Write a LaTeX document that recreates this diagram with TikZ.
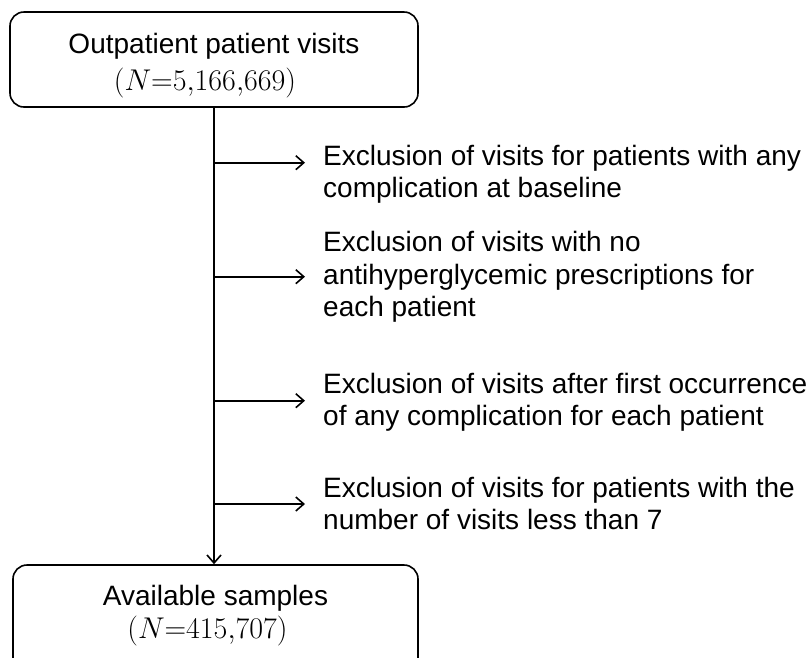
\RequirePackage{fix-cm}
\documentclass[tikz,border=0pt]{standalone}
\usepackage{fontspec}
\setmainfont{Liberation Sans}
\usetikzlibrary{arrows.meta}
\begin{document}
\begin{tikzpicture}[x=1pt,y=-1pt,
  box/.style={draw, line width=1.6pt, rounded corners=14pt, inner sep=0pt},
  arr/.style={-{Straight Barb[length=8pt,width=14pt,line width=1.6pt]}, line width=1.6pt},
  lbl/.style={anchor=base west, inner sep=0pt, align=left, font=\fontsize{28}{32.5}\selectfont},
  ctr/.style={anchor=base, inner sep=0pt, font=\fontsize{28}{32.5}\selectfont},
  num/.style={anchor=base, inner sep=0pt, font=\fontsize{30}{34}\selectfont}]
\useasboundingbox (0,0) rectangle (810,657);
% boxes
\node[box, minimum width=408pt, minimum height=95pt] (top) at (214,59.5) {};
\node[box, minimum width=405pt, minimum height=110pt] (bot) at (215.5,620) {};
% box texts
\node[ctr] (top1) at (214,53) {Outpatient patient visits};
\node[num] (top2) at (205,90) {$(N{=}5{,}166{,}669)$};
\node[ctr] (bot1) at (215.5,605.5) {Available samples};
\node[num] (bot2) at (207.5,638) {$(N{=}415{,}707)$};
% exclusion texts (base anchor = last line's baseline)
\node[lbl] (t1) at (323,197.5) {Exclusion of visits for patients with any\\complication at baseline};
\node[lbl] (t2) at (323,316.7) {Exclusion of visits with no\\antihyperglycemic prescriptions for\\each patient};
\node[lbl] (t3) at (323,425.5) {Exclusion of visits after first occurrence\\of any complication for each patient};
\node[lbl] (t4) at (323,529.5) {Exclusion of visits for patients with the\\number of visits less than 7};
% trunk
\draw[arr] (top.south) -- (top.south |- bot.north);
% junctions
\coordinate (j1) at (214,162.7);
\coordinate (j2) at (214,276.7);
\coordinate (j3) at (214,400.7);
\coordinate (j4) at (214,504);
\draw[arr, shorten >=18pt] (j1) -- (j1 -| t1.west);
\draw[arr, shorten >=18pt] (j2) -- (j2 -| t2.west);
\draw[arr, shorten >=18pt] (j3) -- (j3 -| t3.west);
\draw[arr, shorten >=18pt] (j4) -- (j4 -| t4.west);
\end{tikzpicture}
\end{document}
